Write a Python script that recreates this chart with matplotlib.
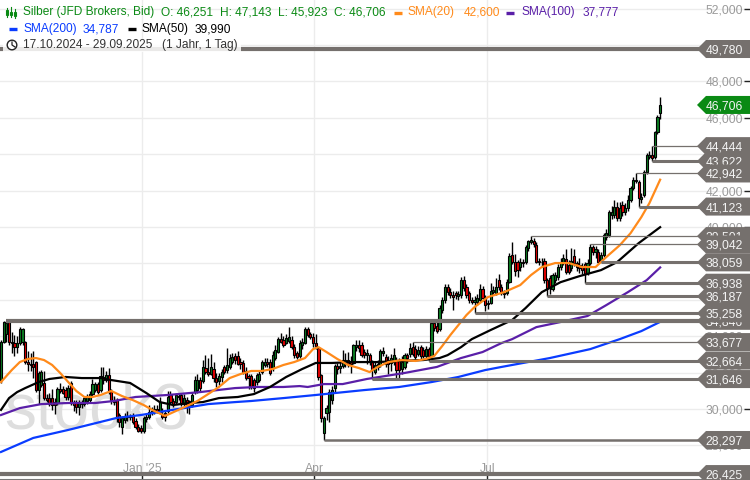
import matplotlib
matplotlib.use("Agg")
import matplotlib.pyplot as plt
from matplotlib.patches import Polygon, Rectangle, Circle

plt.rcParams['font.family'] = ['Liberation Sans', 'DejaVu Sans']

# Tageskerzen 17.10.2024 - 29.09.2025
opens = [
    31600,33700,34100,34800,33700,33650,33400,33650,33700,33700,32600,32500,32500,32600,31050,31300,31450,30600,30600,30600,30400,30350,31100,31100,31050,30650,31450,30400,30350,30100,30350,30250,30450,30500,30800,31050,31350,31050,31750,31600,31850,
    31000,30500,30500,29650,29000,29400,29600,29550,29650,29350,29000,28950,28800,29450,29550,29800,29900,30000,29850,29750,29800,29900,30750,30450,30400,30700,30750,30250,30500,30450,30200,30950,31050,31600,31550,32250,32050,31950,32200,31700,31550,
    31750,32300,32150,32300,32600,32900,32900,32600,32550,32100,31800,31800,31600,31500,31600,32050,32400,32600,32600,32250,32800,33150,33850,33800,33650,33750,33800,33400,33100,32900,33500,33650,34400,34100,33950,33600,33350,31850,28700,29800,29850,
    30500,31150,32350,32250,32350,32450,32700,32650,32550,33400,33500,33500,33150,32950,32950,32600,32050,32300,32400,33100,32850,32700,32550,32600,32700,32650,32200,32300,32950,33000,33400,33300,33000,33400,33250,32900,33300,32900,34700,34550,34400,
    35450,36000,36700,36450,36250,36350,36200,36250,37100,36700,36350,36000,35900,35900,36000,36600,36100,35750,35850,36450,36400,37100,36700,36400,36350,37000,38450,38100,38050,37800,38050,38100,38850,39150,39250,39000,38150,38050,38150,37100,37200,
    36600,37100,37250,37800,38050,38250,37900,37750,38400,38000,37900,37800,37950,37500,38000,38900,38600,38650,38100,38450,39450,39550,40650,40650,41100,40500,41200,40800,41050,41500,42150,42550,42500,41550,41750,43000,43850,43950,43850,45200,46251,
]
highs = [
    33800,34846,34846,34846,34250,34050,34000,34500,34450,33750,33200,33050,33200,32650,32100,32150,32100,30800,30900,31100,30600,31200,31450,31250,31200,31300,31550,30500,30500,30500,30500,30700,30800,31000,31650,31500,31500,32300,32300,32100,32250,
    31100,30700,30600,29800,29600,29800,29900,29750,29800,29500,29200,29100,29600,29800,30200,30100,30200,30200,30650,30050,29950,31000,31000,30600,30900,30850,30900,30800,30650,30500,30950,31800,31900,31750,32700,32950,32800,33000,32600,32000,32000,
    32200,32400,33350,33000,33100,33100,33200,32800,32700,32300,31950,31950,31700,32000,32100,32700,32800,32800,32750,33200,33500,33950,34150,34000,34100,34500,34000,33550,33200,33800,33900,34500,34500,34250,34150,34100,33400,31900,29600,30200,31100,
    31250,32500,32550,32600,33250,33050,33150,32900,33550,33800,33800,33700,33300,33300,33100,32700,32650,32700,33300,33400,33000,32900,33000,33350,32850,32800,32900,33100,33100,33650,33677,33500,33450,33500,33400,33450,33400,34800,34800,34800,35700,
    36150,36850,36850,36650,36500,36500,36500,37250,37300,36850,36500,36150,36200,36300,36850,36750,36250,36000,36900,36750,37200,37400,36850,36550,37150,38550,39150,38500,38200,38300,38250,39000,39300,39501,39400,39150,38300,38300,38300,37200,37350,
    37500,37550,37950,38300,38500,38800,38200,38850,38800,38150,38300,38000,38100,38250,39042,39000,38950,38800,38600,39650,39900,40950,41150,41500,41350,41400,41450,41300,41750,42250,42750,42942,42600,41850,43150,44050,44150,44444,45300,46150,47143,
]
lows = [
    31450,33600,33700,33500,33100,32900,33100,33500,33500,32500,32100,32100,31700,30950,30300,31200,30500,30400,30150,29950,29700,30200,30900,30800,30500,30500,30200,29900,29800,29650,30050,30150,30300,30400,30700,30950,30850,30950,31400,31500,30800,
    30300,30200,29300,29000,28650,29250,29350,29400,29150,28900,28750,28700,28700,29300,29450,29650,29750,29800,29750,29450,29350,29800,30300,30100,30250,30500,30150,30100,29800,29700,30100,30800,30900,31000,31450,31950,31800,31850,31500,31200,31300,
    31500,31900,32000,32200,32500,32500,32400,32200,31950,31600,31100,31100,30950,31300,31500,31950,32300,32300,31850,32100,32700,33050,33600,33400,33550,33650,33300,32800,32750,32800,33300,33550,33950,33850,33400,33300,31600,29300,28297,29400,29300,
    30300,30950,31950,32000,32250,32300,32300,32000,32450,33200,33150,32850,32800,32500,32400,31646,31900,32150,32300,32900,32300,31900,32100,32400,31600,31646,31900,32200,32550,32850,32900,32750,32900,32700,32800,32800,32664,32850,34300,34200,34300,
    35300,35850,36250,36100,35450,36050,36000,36100,36500,36100,35850,35750,35258,35700,35900,35950,35400,35500,35750,36300,36250,36550,36250,36100,36250,36900,37950,37300,37250,37600,37800,37950,38700,39050,38900,38000,37900,37800,36950,36187,36300,
    36500,36950,37100,37650,37900,37400,37400,37600,37850,37600,37500,37400,36938,37350,37900,38450,38300,38000,38059,38350,39300,39450,40450,40500,40350,40350,40600,40650,40900,41400,42050,42400,41123,41300,41650,42900,43750,43622,43750,45100,45923,
]
closes = [
    33700,34800,34750,33700,33650,33400,33650,34400,34400,32600,32500,32400,32300,31050,32000,32050,30600,30500,30300,30200,30200,31100,31000,30900,30650,31150,30350,30200,30100,30350,30250,30600,30650,30800,31350,31350,30950,31800,31600,31850,30950,
    30500,30400,29500,29300,29500,29600,29550,29600,29300,29000,28800,28800,29500,29550,29850,29900,30000,29900,30400,29550,29550,30650,30400,30250,30750,30650,30250,30600,30100,30100,30750,31600,31600,31150,32300,32050,31900,32300,31700,31500,31800,
    32050,32050,32400,32800,32850,32700,32500,32450,32050,31700,31700,31200,31150,31850,31950,32600,32600,32450,32000,32950,33250,33850,33700,33500,33900,33950,33400,32950,32850,33600,33700,34400,34050,33950,33600,33450,31750,29500,29500,30050,30950,
    31050,32350,32200,32350,32700,32700,32450,32450,33500,33500,33350,32950,32950,33100,32600,32150,32400,32450,33200,33200,32500,32500,32800,32950,32150,32150,32600,32950,32800,33350,33000,32850,33250,32900,32900,33300,32900,34750,34450,34300,35550,
    36000,36700,36450,36250,36150,36250,36300,37100,36650,36250,36000,35900,36000,36100,36600,36100,35700,35800,36500,36550,36700,36700,36400,36300,37000,38400,38100,37600,37650,38050,38000,38900,39250,39300,39050,38100,38050,38100,37100,36650,36700,
    37350,37350,37800,38100,38300,37550,37550,38150,38000,37800,37750,37650,37400,38000,38900,38600,38800,38100,38450,39550,39650,40800,40800,41100,40500,41050,40800,41050,41500,42150,42600,42600,41600,41650,43000,43950,43950,43800,45200,46050,46706,
]

sma20_bars = [0,4,7,10,13,16,19,22,25,28,31,34,37,41,45,49,53,57,61,65,69,73,77,81,85,89,93,97,101,105,109,113,116,118,121,125,129,133,137,140,144,149,154,158,161,164,167,170,173,176,181,187,193,197,201,206,211,216,221,225,230,234,238,241,245]
sma20_vals = [31480,32140,32580,32750,32800,32690,32420,31980,31480,30990,30660,30660,30770,30990,30710,30490,30220,29890,29620,29890,30160,30440,30820,31210,31700,31920,32090,32090,32200,32420,32580,32800,33290,33400,33130,32750,32420,32250,32030,32310,32580,32690,32640,32750,32910,33460,34060,34610,35160,35600,36150,36420,36810,37360,37800,38020,38020,37800,37800,38350,39000,39660,40540,41310,42600]
sma50_bars = [0,3,6,9,14,18,24,30,37,41,48,54,59,64,70,75,81,88,94,100,106,112,117,123,131,140,148,157,163,166,171,175,182,190,195,201,208,215,223,229,237,245]
sma50_vals = [29950,30600,30930,31150,31480,31650,31760,31700,31700,31590,31430,30880,30380,30220,30330,30380,30600,30660,30820,31210,31760,32200,32530,32530,32580,32580,32640,32690,32800,32960,33400,33840,34340,34890,35550,36420,36970,37300,37630,38070,39110,39990]
sma100_bars = [0,7,15,25,35,42,50,62,74,87,95,105,111,114,120,127,136,150,162,171,179,186,190,199,208,218,225,233,240,245]
sma100_vals = [29670,30050,30270,30330,30330,30440,30660,30770,30930,31150,31210,31210,31260,31210,31370,31370,31650,31980,32310,32800,33130,33620,33840,34500,34780,35110,35710,36420,37080,37777]
sma200_bars = [0,12,25,37,43,52,59,68,77,87,93,105,117,135,148,160,170,180,186,204,219,230,238,245]
sma200_vals = [27640,28410,28850,29290,29510,29670,29840,30050,30270,30380,30440,30600,30770,31040,31210,31480,31760,32140,32310,32800,33290,33840,34280,34787]

# Unterstuetzungen / Widerstaende
sr_values = [49780,26425,34846,36187,39501,43622,28297,31646,32664,33677,35258,36938,38059,39042,41123,42942,44444]
sr_start = [-1,-1,2,203,197,242,120,138,159,153,176,217,223,219,237,236,242]
sr_widths = [3.0,3.0,3.0,2.2,0.9,2.2,1.8,2.2,2.2,0.9,2.2,2.2,2.2,0.9,2.2,0.9,0.9]

month_bars = [52.4,116.4,180.7]
month_labels = ["Jan '25","Apr","Jul"]
price_ticks = list(range(28000,54000,2000))
last_price = 46706

BG_GRAY = '#75706d'
GREEN = '#0a8a14'
UP = '#0b7d22'
DOWN = '#e60000'

fig = plt.figure(figsize=(7.5,4.8),dpi=100)
ax = fig.add_axes([0,0,1,1])
ax.set_xlim(-0.37,278.4)
ax.set_ylim(26099,52473)
ax.set_axisbelow(True)
for s in ['top','left','right']:
    ax.spines[s].set_visible(False)
ax.spines['bottom'].set_linestyle((0,(1,1)))
ax.spines['bottom'].set_color('#777777')
ax.spines['bottom'].set_linewidth(1.5)

ax.yaxis.tick_right()
ax.set_yticks(price_ticks)
ax.set_yticklabels([f"{p:,}" for p in price_ticks],ha='right',fontsize=8.7,color='#9a9a9a')
ax.tick_params(axis='y',direction='in',length=4,width=1,color='#222222',pad=-5)
ax.set_xticks(month_bars)
ax.set_xticklabels(month_labels,fontsize=8.7,color='#9a9a9a')
ax.tick_params(axis='x',direction='in',length=4,width=1,color='#222222',pad=-12)
ax.grid(True,color='#ececec',linewidth=1)

# Wasserzeichen
ax.text(0.006,0.107,"stock3",transform=ax.transAxes,fontsize=46,color='#dedede',ha='left',va='baseline',zorder=0.6)

# Kerzen
bars = list(range(len(closes)))
ax.vlines(bars,lows,highs,color='black',linewidth=1.0,zorder=3)
body_low = [min(o,c) for o,c in zip(opens,closes)]
body_h = [max(abs(c-o),25) for o,c in zip(opens,closes)]
body_col = [UP if c>=o else DOWN for o,c in zip(opens,closes)]
ax.bar(bars,body_h,bottom=body_low,width=0.8,color=body_col,edgecolor='black',linewidth=0.8,zorder=3.1)

ax.plot(sma200_bars,sma200_vals,color='#0a3cff',linewidth=1.6,zorder=4)
ax.plot(sma100_bars,sma100_vals,color='#5a1fa8',linewidth=1.6,zorder=4.1)
ax.plot(sma50_bars,sma50_vals,color='black',linewidth=1.6,zorder=4.2)
ax.plot(sma20_bars,sma20_vals,color='#ff8a1a',linewidth=1.6,zorder=4.3)


def flag(value,color,z):
    # Preisfahne am rechten Rand, x in Achsenanteilen
    tr = ax.get_yaxis_transform()
    h = 495
    pts = [(697/750,value),(706/750,value+h),(1,value+h),(1,value-h),(706/750,value-h)]
    ax.add_patch(Polygon(pts,closed=True,transform=tr,facecolor=color,edgecolor='none',zorder=z,clip_on=False))
    ax.text(743/750,value,f"{value:,}",transform=tr,ha='right',va='center_baseline',fontsize=8.7,color='#f4f4f4',zorder=z+0.01)


for i,(v,st,w) in enumerate(zip(sr_values,sr_start,sr_widths)):
    ax.hlines(v,st,262,color=BG_GRAY,linewidth=w,zorder=5)
    flag(v,BG_GRAY,6+i*0.1)
flag(last_price,GREEN,9)

# Kopfzeilen in Pixelkoordinaten
ov = fig.add_axes([0,0,1,1],zorder=10)
ov.set_xlim(0,750)
ov.set_ylim(480,0)
ov.axis('off')
ov.add_patch(Rectangle((3,39),238,13,facecolor='white',alpha=0.85,edgecolor='none'))

row1 = [(23,"Silber (JFD Brokers, Bid)"),(161,"O: 46,251"),(220,"H: 47,143"),(278,"L: 45,923"),(334,"C: 46,706")]
for x,t in row1:
    ov.text(x,12.5,t,color=GREEN,fontsize=8.6,va='center')
row1b = [(408,"SMA(20)",'#ff8a1a'),(464,"42,600",'#ff8a1a'),(521,"SMA(100)",'#5a1fa8'),(583,"37,777",'#5a1fa8')]
for x,t,c in row1b:
    ov.text(x,12.5,t,color=c,fontsize=8.6,va='center')
row2 = [(23,"SMA(200)",'#0a3cff'),(83,"34,787",'#0a3cff'),(141,"SMA(50)",'black'),(195,"39,990",'black')]
for x,t,c in row2:
    ov.text(x,29,t,color=c,fontsize=8.6,va='center')
ov.text(23,45,"17.10.2024 - 29.09.2025",color='#333333',fontsize=8.6,va='center')
ov.text(162,45,"(1 Jahr, 1 Tag)",color='#333333',fontsize=8.6,va='center')

for x0,x1,y,c in [(394,402,12.5,'#ff8a1a'),(506,514,12.5,'#5a1fa8'),(9,17,29,'#0a3cff'),(128,136,29,'black')]:
    ov.plot([x0,x1],[y,y],color=c,linewidth=2.4,solid_capstyle='butt')

# Kerzen-Symbol und Uhr
for x,y0,y1,b0,b1 in [(7,8,17,10,15),(11,7,17,12,15),(15,9,18,12,16)]:
    ov.plot([x,x],[y0,y1],color=GREEN,linewidth=0.8)
    ov.add_patch(Rectangle((x-1,b0),2,b1-b0,facecolor='white',edgecolor=GREEN,linewidth=0.8))
ov.add_patch(Circle((12,45),4.8,facecolor='white',edgecolor='#222222',linewidth=1))
ov.plot([12,12,15],[42,45,47],color='#222222',linewidth=0.9)

fig.savefig('out.png',dpi=100)
